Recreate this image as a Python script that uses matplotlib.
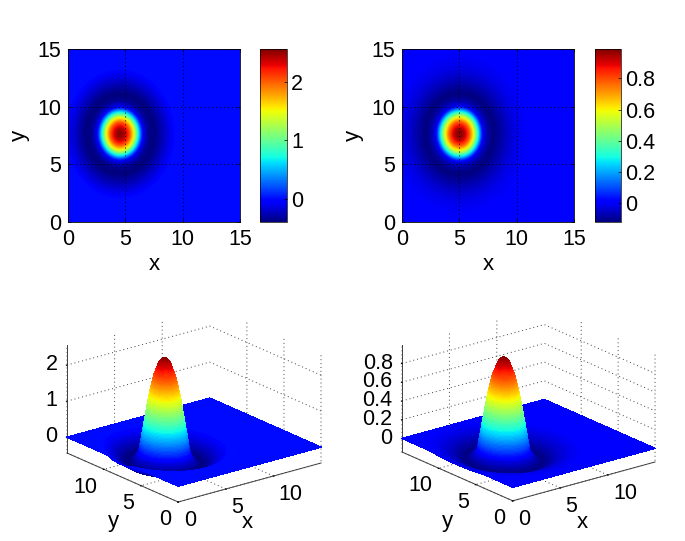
#!/usr/bin/env python
# -*- coding: utf-8 -*-
"""
Two wave packets: density maps on top, the same fields as surfaces below.
"""
import numpy as np
import matplotlib
matplotlib.use("Agg")
import matplotlib.pyplot as plt
from matplotlib import colors
from mpl_toolkits.mplot3d import proj3d

plt.rcParams['font.family'] = ['Liberation Sans', 'DejaVu Sans']
plt.rcParams['font.size'] = 15.5
plt.rcParams['grid.color'] = '#404040'
plt.rcParams['grid.linestyle'] = (0, (1, 3))
plt.rcParams['grid.linewidth'] = 0.7
plt.rcParams['axes.linewidth'] = 0.6

radius_left = [0, 0.4, 0.87, 1.22, 1.6, 2.0, 2.5, 3.0, 3.5, 4.2, 4.65, 4.72, 15, 25]
values_left = [2.57, 2.45, 2.02, 1.47, 0.7, -0.1, -0.36, -0.4, -0.3, -0.15, -0.07, 0, 0, 0]
radius_right = [0, 0.4, 0.9, 1.25, 1.65, 2.05, 2.5, 3.0, 3.6, 4.3, 5, 6, 15, 25]
values_right = [0.99, 0.95, 0.78, 0.58, 0.29, -0.01, -0.09, -0.125, -0.09, -0.05, -0.02, 0, 0, 0]
centre_left = (4.53, 7.65)
centre_right = (5.0, 7.65)
y_stretch = 1.17

limits_left = (-0.4, 2.57)
limits_right = (-0.125, 0.99)
map_ticks = [0, 5, 10, 15]
surf_ticks = [0, 5, 10]
surf_labels = ['0', '5', '10']
cbar_ticks_left = [0, 1, 2]
cbar_ticks_right = [0, 0.2, 0.4, 0.6, 0.8]
cbar_labels_right = ['0', '0.2', '0.4', '0.6', '0.8']
zticks_left = [0, 1, 2]
zticks_right = [0, 0.2, 0.4, 0.6, 0.8]
zrange_left = (-0.44, 2.55)
zrange_right = (-0.145, 1.0)

W, H = 685., 541.


def px_rect(x0, y0, x1, y1):
    # pixel box (y down) to figure fractions
    return [x0/W, 1-y1/H, (x1-x0)/W, (y1-y0)/H]


def profile(r, radius, values):
    # round off the corners of the read profile
    rr = np.arange(-1, 26, 0.01)
    prof = np.interp(np.abs(rr), radius, values)
    prof = np.convolve(prof, np.ones(21)/21., mode='same')
    return np.interp(r, rr, prof)


def make_field(radius, values, centre, n=241):
    x = np.linspace(0, 15, n)
    X, Y = np.meshgrid(x, x)
    r = np.sqrt((X-centre[0])**2 + ((Y-centre[1])/y_stretch)**2)
    return profile(r, radius, values)


def make_rays(radius, values, centre, inner=4.4):
    # mesh of rays from the peak to the square's edge, so the facets follow the rings
    side = np.linspace(0, 15, 61)[:-1]
    bx = np.r_[side, 0*side+15, 15-side, 0*side, 0]
    by = np.r_[0*side, side, 0*side+15, 15-side, 0]
    dx, dy = bx-centre[0], by-centre[1]
    full = np.sqrt(dx**2 + (dy/y_stretch)**2)
    rin = np.linspace(0, inner, 260, endpoint=False)
    tin = rin[None, :]/full[:, None]
    tout = np.linspace(inner/full, 1, 30).T
    t = np.c_[tin, tout]
    X = centre[0] + t*dx[:, None]
    Y = centre[1] + t*dy[:, None]
    r = np.sqrt((X-centre[0])**2 + ((Y-centre[1])/y_stretch)**2)
    return X, Y, profile(r, radius, values)


def plot_map(fig, rect, cbar_rect, Z, limits, cticks, clabels):
    ax = fig.add_axes(px_rect(*rect))
    im = ax.imshow(Z, extent=(0, 15, 0, 15), origin='lower', cmap='jet',
                   vmin=limits[0], vmax=limits[1], interpolation='bicubic', aspect='auto')
    ax.set_xticks(map_ticks)
    ax.set_yticks(map_ticks)
    ax.grid(True, color='k')
    ax.tick_params(direction='in', length=2, width=0.5, top=True, right=True, pad=5)
    ax.set_xlabel('x', labelpad=3, fontsize=16)
    ax.set_ylabel('y', labelpad=5, fontsize=16)
    cax = fig.add_axes(px_rect(*cbar_rect))
    cb = fig.colorbar(im, cax=cax)
    cb.set_ticks(cticks, labels=clabels)
    cax.tick_params(direction='in', length=2, width=0.5, pad=3)
    cb.outline.set_linewidth(0.5)
    return ax


def corner_px(ax, x, y, z):
    xp, yp, _ = proj3d.proj_transform(x, y, z, ax.get_proj())
    return ax.transData.transform((xp, yp))


def plot_surf(fig, X, Y, Z, limits, zrange, zticks, zlabels, left, right, xlab, ylab):
    # left/right: pixel spots of the (0,15,zmin) and (15,0,zmin) box corners
    ax = fig.add_axes([0.1, 0.05, 0.4, 0.4], projection='3d')
    ax.set_proj_type('ortho')
    ax.view_init(elev=20.3, azim=-128.2)
    ax.set_box_aspect((182, 180, 115), zoom=1.0)
    ax.set_xlim(0, 15)
    ax.set_ylim(0, 15)
    ax.set_zlim(*zrange)
    norm = colors.Normalize(*limits)
    fc = plt.get_cmap('jet')(norm(Z))
    surf = ax.plot_surface(X, Y, Z, facecolors=fc, rstride=1, cstride=1, shade=False,
                           linewidth=0.3, antialiased=False)
    surf.set_clip_on(False)
    ax.set_xticks(surf_ticks, labels=surf_labels, ha='left', va='top')
    ax.set_yticks(surf_ticks, labels=surf_labels, ha='right', va='top')
    ax.set_zticks(zticks, labels=zlabels, ha='right', va='center')
    for axis in (ax.xaxis, ax.yaxis, ax.zaxis):
        axis.set_pane_color((1, 1, 1, 0))
        axis.pane.set_edgecolor((1, 1, 1, 0))
        axis.line.set_linewidth(0.7)
        axis.line.set_color('#404040')
        axis._axinfo['tick']['inward_factor'] = 0.05
        axis._axinfo['tick']['outward_factor'] = 0.0
    ax.tick_params(axis='x', pad=-4)
    ax.tick_params(axis='y', pad=-4)
    ax.tick_params(axis='z', pad=-5)
    fig.text(xlab[0]/W, 1-xlab[1]/H, 'x', ha='center', va='center', fontsize=16)
    fig.text(ylab[0]/W, 1-ylab[1]/H, 'y', ha='center', va='center', fontsize=16)

    # move the axes so the box corners land on the wanted pixels
    fig.canvas.draw()
    want = np.array(right) - np.array(left)
    a = corner_px(ax, 0, 15, zrange[0])
    b = corner_px(ax, 15, 0, zrange[0])
    ax.set_box_aspect((182, 180, 115), zoom=np.hypot(*want)/np.hypot(*(b-a)))
    fig.canvas.draw()
    a = corner_px(ax, 0, 15, zrange[0])
    pos = ax.get_position()
    ax.set_position([pos.x0 + (left[0]-a[0])/W, pos.y0 + ((H-left[1])-a[1])/H, pos.width, pos.height])
    return ax


fig = plt.figure(figsize=(6.85, 5.41), dpi=100)

plot_map(fig, (68, 49, 240, 222), (260, 49, 287, 222),
         make_field(radius_left, values_left, centre_left), limits_left,
         cbar_ticks_left, ['0', '1', '2'])
plot_map(fig, (402, 49, 574, 222), (595, 49, 621, 222),
         make_field(radius_right, values_right, centre_right), limits_right,
         cbar_ticks_right, cbar_labels_right)

plot_surf(fig, *make_rays(radius_left, values_left, centre_left), limits_left,
          zrange_left, zticks_left, ['0', '1', '2'],
          (67, 453), (321, 463), (247, 523), (113, 522))
plot_surf(fig, *make_rays(radius_right, values_right, centre_right), limits_right,
          zrange_right, zticks_right, ['0', '0.2', '0.4', '0.6', '0.8'],
          (402, 452), (655, 463), (582, 523), (447, 522))

fig.savefig('out.png', dpi=100)
